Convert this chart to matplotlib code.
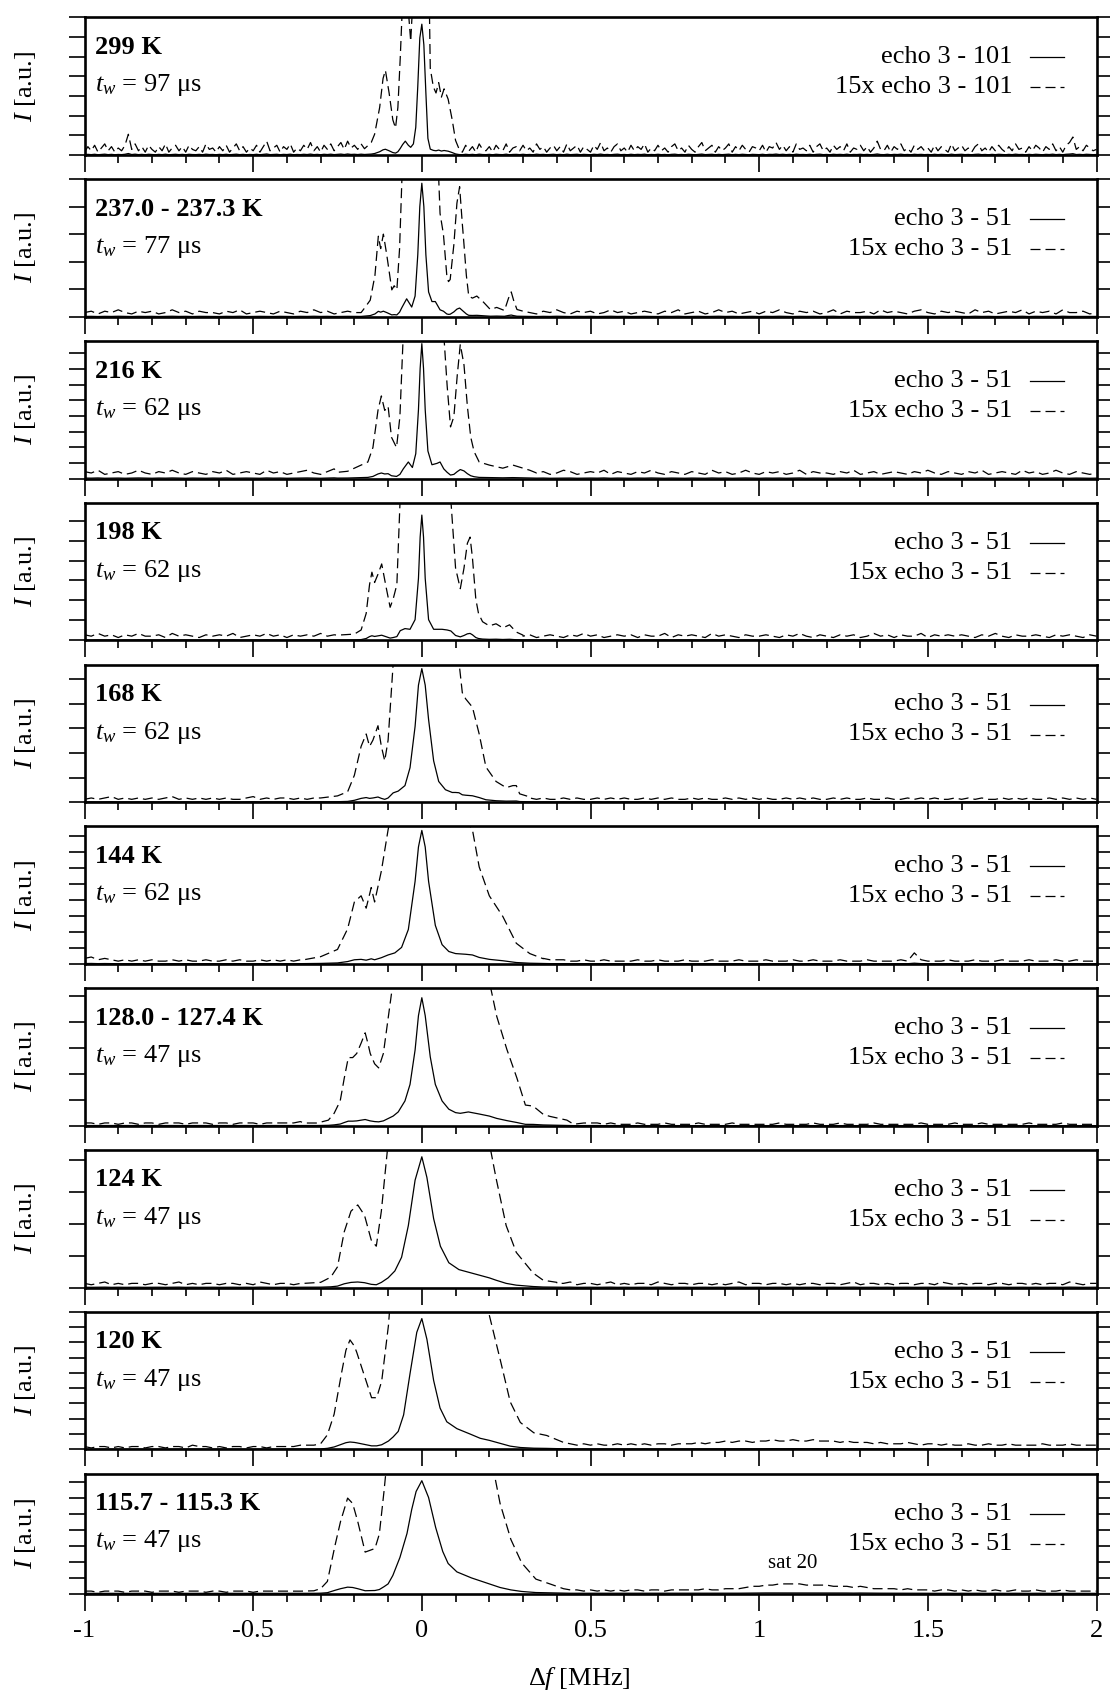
import numpy as np
import matplotlib
matplotlib.use("Agg")
import matplotlib.pyplot as plt
from matplotlib.ticker import MultipleLocator
from matplotlib.transforms import ScaledTranslation

plt.rcParams['font.family'] = ['Liberation Serif', 'DejaVu Serif']
plt.rcParams['mathtext.fontset'] = 'custom'
plt.rcParams['mathtext.rm'] = 'Liberation Serif'
plt.rcParams['mathtext.it'] = 'Liberation Serif:italic'
plt.rcParams['mathtext.bf'] = 'Liberation Serif:bold'
plt.rcParams['axes.unicode_minus'] = False

# ---------------- data ----------------
temperatures = ["299 K", "237.0 - 237.3 K", "216 K", "198 K", "168 K",
                "144 K", "128.0 - 127.4 K", "124 K", "120 K", "115.7 - 115.3 K"]
wait_times = [97, 77, 62, 62, 62, 62, 47, 47, 47, 47]
echo_ranges = ["3 - 101"] + ["3 - 51"] * 9
amplification = 15
# full scale of each panel expressed in y-tick intervals
full_scale_ticks = [7.0, 5.0, 8.8, 6.9, 5.6, 8.6, 5.3, 4.3, 9.0, 7.5]
xtick_labels = ["-1", "-0.5", "0", "0.5", "1", "1.5", "2"]

# baseline noise (level of the 15x curve, % of full scale); panel 1 on a 0.01 MHz grid,
# the others on a 0.02 MHz grid from -1 to 2 MHz
base_1 = [2,6,3,7,2,5,8,3,6,2, 5,3,7,15,4,8,3,6,2,7, 4,2,6,3,8,2,5,7,3,6,
          2,7,4,3,6,2,8,4,5,2, 6,3,7,2,5,8,3,6,2,5, 3,7,2,6,10,3,5,7,2,6,
          4,8,2,5,3,7,4,9,3,6, 2,7,4,8,3,6,9,4,10,5, 7,4,8,5,5,5,5,5,5,5,
          5,5,5,5,5,5,5,5,5,5, 5,5,5,5,5,5,5,5,5,5, 5,4,2,7,3,6,2,8,4,3,
          6,2,7,4,3,8,2,5,6,3, 7,3,5,2,8,4,6,2,5,7, 3,6,2,8,3,5,7,2,6,4,
          2,7,4,9,3,5,2,6,8,3, 5,2,7,3,6,4,8,2,5,3, 7,3,5,2,6,8,3,5,2,7,
          4,2,6,9,3,5,7,2,6,3, 5,8,2,6,3,7,4,2,6,5, 3,7,2,6,5,9,4,7,3,6,
          2,8,4,5,3,7,2,6,8,3, 5,2,7,4,6,3,8,2,5,4, 7,3,6,2,5,10,4,3,7,2,
          6,4,8,3,5,2,7,4,6,3, 5,2,7,3,6,4,2,8,3,5, 7,3,5,2,6,8,3,5,2,6,
          3,7,4,2,6,3,8,4,5,2, 6,3,7,5,2,6,4,8,3,6, 2,7,9,13,4,6,3,7,5,3, 4]
base_2 = [3,4,2,4,3,5,3,2,4,3, 4,2,3,5,3,4,2,4,3,3, 2,4,3,5,2,3,4,3,2,4,
          3,2,4,3,5,3,4,2,3,4, 3,3,3,3,3,3,3,3,3,3, 3,3,3,3,3,3,3,3,3,3,
          3,3,3,3,3,4,3,2,4,3, 5,3,2,4,3,4,2,3,5,3, 4,2,3,4,3,2,4,3,5,2,
          3,4,2,3,5,3,4,2,3,4, 2,4,3,5,3,2,4,3,4,2, 3,5,2,4,3,3,4,2,5,3,
          4,3,2,4,5,3,2,4,3,4, 3,2,5,3,4,2,3,4,3,5, 2,4,3,4,2,5,3,3,4,2, 3]
base_3 = [5,4,6,3,4,5,3,4,6,4, 3,5,4,6,4,3,5,4,3,5, 4,6,3,4,5,4,3,6,4,5,
          3,4,5,6,4,3,5,7,5,4, 4,4,4,4,4,4,4,4,4,4, 4,4,4,4,4,4,4,4,4,4,
          4,4,4,4,4,4,6,4,5,3, 4,6,5,3,4,5,4,6,3,5, 4,3,5,4,6,4,3,5,4,3,
          5,4,3,6,4,5,3,4,6,4, 3,5,4,5,3,4,6,3,5,4, 4,3,5,4,6,3,4,5,3,4,
          5,4,3,5,4,6,4,3,5,4, 3,5,4,6,3,4,5,4,3,6, 4,5,3,4,6,4,3,5,4,3, 4]
base_4 = [4,3,5,3,4,2,4,3,5,3, 3,4,2,5,3,4,3,2,4,3, 4,3,5,2,3,4,3,5,3,4,
          2,4,3,4,3,5,3,4,2,4, 3,3,3,3,3,3,3,3,3,3, 3,3,3,3,3,3,3,3,3,3,
          3,3,3,3,3,3,4,2,3,4, 3,2,4,3,5,3,4,2,3,4, 3,4,2,4,3,3,5,2,4,3,
          4,3,2,5,3,4,3,2,4,3, 3,4,3,2,4,3,5,3,2,4, 3,2,4,3,4,2,3,5,3,4,
          2,4,3,3,5,2,4,3,4,3, 4,3,2,4,3,5,3,2,4,3, 3,4,3,2,4,3,4,3,2,4, 3]
base_5 = [2,3,2,3,4,2,3,2,3,2, 3,2,3,4,2,3,2,3,2,3, 2,3,2,2,3,4,2,3,2,3,
          3,2,3,2,3,2,4,3,3,3, 3,3,3,3,3,3,3,3,3,3, 3,3,3,3,3,3,3,3,3,3,
          3,3,3,3,3,3,3,2,3,2, 2,3,2,3,2,2,3,2,3,2, 3,2,2,3,2,3,2,3,2,2,
          3,2,3,2,2,3,2,3,2,3, 2,3,2,2,3,2,3,2,3,2, 2,3,2,3,2,2,3,2,2,3,
          2,2,3,2,3,2,3,2,2,3, 2,3,2,3,2,2,3,2,3,2, 3,2,2,3,2,3,2,3,2,3, 2]
base_6 = [4,5,3,4,3,2,3,2,3,2, 3,2,2,3,2,3,2,2,3,2, 2,3,2,3,2,2,3,2,3,2,
          3,2,3,2,3,3,4,4,4,4, 4,4,4,4,4,4,4,4,4,4, 4,4,4,4,4,4,4,4,4,4,
          4,4,4,4,4,4,4,4,4,3, 3,3,2,2,3,2,2,3,2,2, 2,2,3,2,2,3,2,2,2,3,
          2,2,2,3,2,2,2,3,2,2, 2,3,2,2,2,3,2,2,3,2, 2,2,3,2,2,2,3,2,2,2,
          2,3,2,8,3,2,2,2,3,2, 2,2,3,2,2,2,3,2,2,2, 3,2,2,2,3,2,2,3,2,2, 2]
base_7 = [2,2,1,2,2,1,2,2,1,2, 2,1,2,2,2,1,2,2,2,1, 2,2,1,2,2,2,1,2,2,2,
          2,2,3,2,2,2,3,3,3,3, 3,3,3,3,3,3,3,3,3,3, 3,3,3,3,3,3,3,3,3,3,
          3,3,3,3,3,3,3,3,3,3, 3,3,2,2,1,2,2,1,2,1, 1,1,2,1,1,1,2,1,1,1,
          1,2,1,1,1,1,2,1,1,1, 1,1,1,2,1,1,1,1,2,1, 1,1,2,1,1,1,1,2,1,1,
          1,1,1,1,2,1,1,1,1,2, 1,1,1,2,1,1,1,1,1,1, 2,1,1,1,1,2,1,1,1,1, 1]
base_8 = [3,2,3,4,2,3,2,3,3,2, 3,3,2,3,4,2,3,2,3,3, 2,3,3,2,3,2,4,3,2,3,
          3,2,3,2,3,3,3,3,3,3, 3,3,3,3,3,3,3,3,3,3, 3,3,3,3,3,3,3,3,3,3,
          3,3,3,3,3,3,3,3,3,3, 3,3,4,2,3,3,2,3,4,2, 3,2,3,3,2,4,3,2,3,3,
          2,3,3,2,3,2,3,4,2,3, 3,2,3,3,2,3,2,3,3,2, 3,3,2,3,4,2,3,3,2,3,
          2,3,3,2,3,3,2,4,3,2, 3,2,3,3,2,3,3,2,3,3, 2,3,2,3,3,2,4,3,2,3, 3]
base_9 = [2,1,2,2,1,2,1,2,2,1, 2,2,1,2,2,1,3,2,2,1, 2,1,2,2,1,2,2,1,2,2,
          2,2,2,2,3,3,3,3,3,3, 3,3,3,3,3,3,3,3,3,3, 3,3,3,3,3,3,3,3,3,3,
          3,3,3,3,3,3,3,3,3,3, 6,5,4,3,4,3,4,3,3,4, 3,4,3,4,3,4,4,3,4,4,
          4,5,4,5,5,6,5,6,6,5, 6,6,7,6,6,7,6,6,7,6, 6,6,5,6,5,5,5,4,5,4,
          4,4,5,4,3,4,4,3,4,3, 3,4,3,3,4,3,3,4,3,3, 3,3,4,3,3,3,4,3,3,3, 3]
base_10 = [2,2,1,2,2,2,1,2,2,2, 1,2,2,2,1,2,2,2,1,2, 2,1,2,2,2,1,2,2,2,2,
           2,2,1,2,2,2,3,3,3,3, 3,3,3,3,3,3,3,3,3,3, 3,3,3,3,3,3,3,3,3,3,
           3,3,3,3,3,3,3,3,3,3, 5,4,3,3,2,3,2,3,2,3, 2,3,3,2,3,3,2,3,3,3,
           3,3,4,3,3,4,4,4,5,6, 6,7,7,8,8,8,8,7,7,7, 7,6,6,6,5,6,5,4,4,4,
           4,3,4,3,3,3,2,3,3,2, 3,2,3,2,2,3,2,2,3,2, 2,3,2,2,2,3,2,2,2,2, 2]

# central region of each echo spectrum (MHz, % of full scale)
peak_x_1 = [-0.17,-0.15,-0.14,-0.125,-0.115,-0.108,-0.097,-0.086,-0.078,-0.071,-0.064,-0.057,
            -0.049,-0.04,-0.033,-0.025,-0.018,-0.012,-0.006,0.0,0.006,0.012,0.018,0.025,0.034,
            0.042,0.05,0.058,0.066,0.078,0.09,0.1,0.11]
peak_y_1 = [0.3,0.6,1.0,2.3,3.7,4.1,3.0,1.7,1.3,2.3,4.7,7.5,
            10,7,5.5,8,20,50,85,95,80,45,12,4.2,3.3,
            3.0,3.5,2.8,3.2,2.7,1.7,0.7,0.3]
peak_x_2 = [-0.173,-0.153,-0.139,-0.129,-0.122,-0.114,-0.104,-0.089,-0.082,-0.074,-0.066,-0.059,
            -0.045,-0.03,-0.02,-0.012,-0.006,0.0,0.006,0.012,0.02,0.03,0.04,0.054,0.064,0.074,
            0.079,0.084,0.095,0.104,0.112,0.12,0.124,0.132,0.139,0.15,0.163,0.183,0.203,0.222,
            0.245,0.257,0.265,0.272,0.282]
peak_y_2 = [0.35,0.8,2.0,3.9,3.3,4.0,3.0,1.3,1.5,1.3,3.3,6.7,
            13,7,15,45,80,97,80,45,18,11,11,5,4.0,2.0,
            1.7,1.8,3.5,5.5,6.3,4.5,3.7,2.0,1.0,0.9,1.0,0.7,0.35,0.45,
            0.3,0.9,1.2,0.8,0.35]
peak_x_3 = [-0.25,-0.22,-0.2,-0.18,-0.16,-0.145,-0.13,-0.12,-0.11,-0.1,-0.09,-0.075,-0.065,
            -0.055,-0.04,-0.028,-0.018,-0.01,-0.005,0.0,0.005,0.01,0.018,0.03,0.045,0.054,
            0.065,0.075,0.085,0.095,0.105,0.114,0.125,0.135,0.145,0.155,0.17,0.2,0.24,0.27,0.31]
peak_y_3 = [0.3,0.35,0.5,0.65,0.8,1.5,3.3,4.0,3.3,3.5,2.0,1.5,3.0,
            7,12,8,18,50,80,98,80,50,20,10,11,12,
            7,4.5,2.5,3,5,6.5,5.5,3.5,2.0,1.3,0.8,0.65,0.5,0.65,0.45]
peak_x_4 = [-0.25,-0.2,-0.18,-0.165,-0.155,-0.148,-0.14,-0.13,-0.119,-0.105,-0.094,-0.085,
            -0.074,-0.064,-0.05,-0.035,-0.02,-0.01,-0.005,0.0,0.005,0.01,0.02,0.035,0.05,0.06,
            0.075,0.086,0.1,0.114,0.125,0.135,0.143,0.15,0.16,0.168,0.18,0.2,0.22,0.24,0.26,
            0.28,0.3]
peak_y_4 = [0.25,0.3,0.5,1.3,2.7,3.3,2.8,3.2,3.7,2.5,1.6,2.0,
            2.7,7,8.5,8,15,45,75,91,75,45,15,8,8,8,
            7.5,6.8,3.5,2.5,3.5,4.7,5.0,4.0,2.0,1.3,0.9,0.7,0.8,0.6,0.75,
            0.4,0.25]
peak_x_5 = [-0.3,-0.25,-0.22,-0.2,-0.18,-0.165,-0.155,-0.145,-0.13,-0.12,-0.11,-0.1,-0.085,
            -0.07,-0.05,-0.035,-0.02,-0.01,0.0,0.01,0.02,0.035,0.05,0.07,0.09,0.1,0.11,0.12,
            0.13,0.15,0.17,0.19,0.22,0.25,0.27,0.28,0.29,0.32]
peak_y_5 = [0.2,0.3,0.5,1.3,2.7,3.3,2.7,3.0,3.7,2.7,2.0,3,6.7,
            8,12,25,55,85,97,85,60,30,15,9,7,7,6.8,5.3,
            5.0,4.6,3.3,1.7,1.0,0.7,0.8,0.8,0.4,0.25]
peak_x_6 = [-0.35,-0.3,-0.25,-0.22,-0.2,-0.18,-0.165,-0.15,-0.14,-0.12,-0.1,-0.08,-0.06,
            -0.04,-0.02,-0.01,0.0,0.01,0.02,0.04,0.06,0.08,0.1,0.13,0.15,0.17,0.2,0.24,
            0.28,0.32,0.36]
peak_y_6 = [0.2,0.35,0.7,1.7,3.0,3.3,2.7,3.7,3.0,4.5,6.5,8,12,
            25,60,85,97,85,60,28,14,9,7.5,7,6.5,4.7,3.3,2.3,
            1.0,0.5,0.25]
peak_x_7 = [-0.35,-0.31,-0.277,-0.26,-0.242,-0.23,-0.218,-0.205,-0.193,-0.18,-0.168,-0.16,
            -0.153,-0.14,-0.128,-0.114,-0.099,-0.085,-0.07,-0.05,-0.035,-0.02,-0.01,0.0,0.01,
            0.025,0.04,0.06,0.08,0.1,0.114,0.138,0.17,0.2,0.222,0.252,0.282,0.307,0.33,0.36,
            0.38,0.43,0.45,0.48,0.5]
peak_y_7 = [0.13,0.13,0.27,0.6,1.2,2.3,3.3,3.3,3.5,4.0,4.5,4.0,
            3.5,3.0,2.8,3.5,5.3,7,10,18,30,55,80,93,80,
            50,30,18,12,9.5,9,10,8.5,7,5.3,3.7,2.3,1.0,0.95,0.55,
            0.45,0.27,0.07,0.13,0.13]
peak_x_8 = [-0.35,-0.3,-0.27,-0.25,-0.23,-0.21,-0.19,-0.17,-0.15,-0.135,-0.12,-0.1,-0.08,
            -0.06,-0.04,-0.02,0.0,0.015,0.035,0.055,0.08,0.11,0.14,0.17,0.2,0.22,0.25,0.28,
            0.3,0.33,0.36,0.4]
peak_y_8 = [0.2,0.25,0.5,1.0,2.7,3.7,4.0,3.5,2.3,2.0,3.7,7,12,
            22,45,78,95,80,50,30,18,13,11,9,7,5.3,3.0,1.7,
            1.3,0.7,0.35,0.25]
peak_x_9 = [-0.36,-0.32,-0.3,-0.28,-0.26,-0.238,-0.225,-0.213,-0.2,-0.193,-0.173,-0.149,
            -0.134,-0.119,-0.099,-0.085,-0.07,-0.054,-0.035,-0.015,0.0,0.015,0.035,0.054,
            0.074,0.104,0.144,0.173,0.2,0.233,0.262,0.292,0.332,0.37,0.41]
peak_y_9 = [0.2,0.2,0.27,0.7,1.7,3.7,4.8,5.3,5.0,4.7,3.7,2.5,
            2.5,3.3,6.0,9,13,25,55,85,95,80,50,30,
            20,15,11,8,6.5,4.3,2.3,1.3,0.8,0.67,0.4]
peak_x_10 = [-0.36,-0.32,-0.3,-0.28,-0.257,-0.241,-0.22,-0.205,-0.19,-0.168,-0.139,-0.126,
             -0.112,-0.1,-0.086,-0.065,-0.044,-0.03,-0.017,0.0,0.02,0.041,0.062,0.078,0.104,
             0.147,0.19,0.232,0.264,0.296,0.338,0.38,0.41]
peak_y_10 = [0.13,0.15,0.27,0.67,2.7,4.0,5.3,5.0,4.0,2.3,2.5,3.3,
             5.7,8,15,30,50,70,85,94,80,55,35,25,18,
             13,9,5,3.0,1.7,0.8,0.53,0.33]

bases = [base_1, base_2, base_3, base_4, base_5, base_6, base_7, base_8, base_9, base_10]
peaks_x = [peak_x_1, peak_x_2, peak_x_3, peak_x_4, peak_x_5, peak_x_6, peak_x_7, peak_x_8,
           peak_x_9, peak_x_10]
peaks_y = [peak_y_1, peak_y_2, peak_y_3, peak_y_4, peak_y_5, peak_y_6, peak_y_7, peak_y_8,
           peak_y_9, peak_y_10]


def spectrum(base, px, py):
    xg = np.linspace(-1.0, 2.0, len(base))
    yb = np.asarray(base, float) / amplification
    keep = (xg < px[0]) | (xg > px[-1])
    x = np.concatenate([xg[keep], px])
    y = np.concatenate([yb[keep], py])
    o = np.argsort(x)
    return x[o], y[o]


# ---------------- layout ----------------
W, H = 1110, 1693
fig = plt.figure(figsize=(W / 100, H / 100), dpi=100)
left_px, right_px = 84.5, 1096.5
AXW = right_px - left_px
tops = [17.3 + i * 161.8 for i in range(10)]
heights = [137.6] * 9 + [120.0]
FS = 19
LW = 0.9
DASH = (0, (8, 4))


def offset(ax, dx, dy):
    return ax.transAxes + ScaledTranslation(dx / 100, dy / 100, fig.dpi_scale_trans)


for i in range(10):
    top, h = tops[i], heights[i]
    ax = fig.add_axes([left_px / W, 1 - (top + h) / H, AXW / W, h / H])
    x, y = spectrum(bases[i], np.array(peaks_x[i]), np.array(peaks_y[i]))
    ax.plot(x, y, color='black', lw=LW, zorder=3)
    ax.plot(x, y * amplification, color='black', lw=LW, linestyle=DASH, zorder=3)
    ax.set_xlim(-1, 2)
    ax.set_ylim(0, 100)
    ax.xaxis.set_major_locator(MultipleLocator(0.5))
    ax.xaxis.set_minor_locator(MultipleLocator(0.1))
    ax.yaxis.set_major_locator(MultipleLocator(100.0 / full_scale_ticks[i]))
    ax.tick_params(axis='x', which='major', direction='out', length=12.2, width=1.2,
                   bottom=True, top=False, labelsize=FS, pad=7)
    ax.tick_params(axis='x', which='minor', direction='out', length=5.8, width=1.2,
                   bottom=True, top=False)
    ax.tick_params(axis='y', which='major', direction='out', length=11.5, width=1.2,
                   left=True, right=True, labelleft=False, labelright=False)
    for s in ax.spines.values():
        s.set_linewidth(1.9)
        s.set_zorder(5)
    if i < 9:
        ax.tick_params(axis='x', labelbottom=False)
    else:
        ax.set_xticks(np.arange(-1, 2.01, 0.5))
        ax.set_xticklabels(xtick_labels)

    ax.text(0, 1, temperatures[i], transform=offset(ax, 10.5, -36.6), fontsize=FS,
            fontweight='bold', ha='left', va='baseline')
    ax.text(0, 1, r"$t_w$ = %d μs" % wait_times[i], transform=offset(ax, 10.5, -74),
            fontsize=FS, ha='left', va='baseline')
    # legend (text left of the line sample)
    ax.text(1, 1, "echo " + echo_ranges[i], transform=offset(ax, -84, -40), fontsize=FS,
            ha='right', va='center')
    ax.text(1, 1, "%dx echo " % amplification + echo_ranges[i],
            transform=offset(ax, -84, -70), fontsize=FS, ha='right', va='center')
    xs = [1 - 66.5 / AXW, 1 - 33.0 / AXW]
    ax.plot(xs, [1, 1], transform=offset(ax, 0, -40), color='black', lw=LW, clip_on=False)
    ax.plot(xs, [1, 1], transform=offset(ax, 0, -70), color='black', lw=LW,
            linestyle=DASH, clip_on=False)
    ax.text(0, 0.5, r"$I$ [a.u.]", transform=offset(ax, -59.5, 0), rotation=90,
            fontsize=FS, ha='center', va='center')
    if i == 9:
        ax.text(1.1, 25, "sat 20", fontsize=15, ha='center', va='center')

fig.text(579 / W, 1 - 1679 / H, r"Δ$f$ [MHz]", fontsize=FS, ha='center', va='center')
fig.savefig("out.png", dpi=100)
